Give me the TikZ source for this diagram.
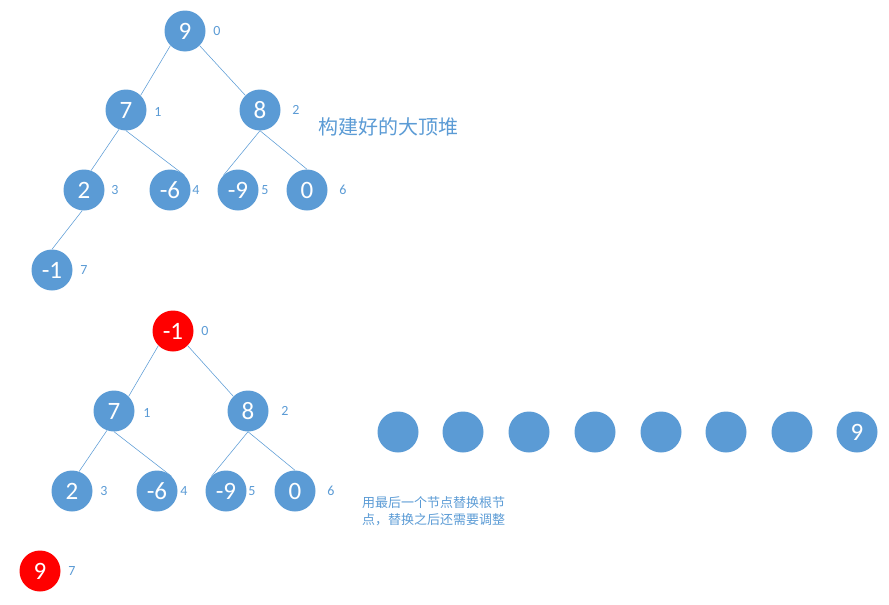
\documentclass[tikz,border=0pt]{standalone}
\usepackage{fontspec}
\setmainfont{Carlito}
\newfontfamily\cjk{Noto Sans CJK SC}
\definecolor{heapblue}{HTML}{5B9BD5}
\definecolor{heapred}{HTML}{FF0000}
\tikzset{
  heapnode/.style={circle, fill=heapblue, text=white, minimum size=41pt, inner sep=0pt, font=\fontsize{25}{27}\selectfont},
  rednode/.style={heapnode, fill=heapred},
  idx/.style={text=heapblue, font=\fontsize{14}{16}\selectfont, inner sep=0pt},
  edge/.style={draw=heapblue, line width=0.55pt},
  note/.style={text=heapblue, align=left, inner sep=0pt}
}
\begin{document}
\begin{tikzpicture}[x=1pt, y=-1pt]
    \useasboundingbox (0,0) rectangle (889,605);
    % the max heap after building it
    \node[heapnode] (t0) at (185,31)  {9};
    \node[heapnode] (t1) at (126,110) {7};
    \node[heapnode] (t2) at (260,110) {8};
    \node[heapnode] (t3) at (84,190)  {2};
    \node[heapnode] (t4) at (170,190) {-6};
    \node[heapnode] (t5) at (238,190) {-9};
    \node[heapnode] (t6) at (307,190) {0};
    \node[heapnode] (t7) at (52,270)  {-1};
    \foreach \i/\x/\y in {0/217/31, 1/158/112, 2/296/110, 3/115/190, 4/196/190, 5/265/190, 6/343/190, 7/84/270}
      \node[idx] (ti\i) at (\x,\y) {\i};
    \draw[edge] (t0.south west) -- (t1.north east);
    \draw[edge] (t0.south east) -- (t2.north west);
    \draw[edge] (t1.-110) -- (t3.70);
    \draw[edge] (t1.south) -- (t4.north east);
    \draw[edge] (t2.south) -- (t5.north west);
    \draw[edge] (t2.south) -- (t6.north);
    \draw[edge] (t3.-95) -- (t7.north);
    \node[note, anchor=west, font=\cjk\fontsize{20}{22}\selectfont] (title) at (318,127) {构建好的大顶堆};
    % the last node replaces the root
    \node[rednode]  (b0) at (173,331) {-1};
    \node[heapnode] (b1) at (114,411) {7};
    \node[heapnode] (b2) at (248,411) {8};
    \node[heapnode] (b3) at (72,491)  {2};
    \node[heapnode] (b4) at (157,491) {-6};
    \node[heapnode] (b5) at (226,491) {-9};
    \node[heapnode] (b6) at (295,491) {0};
    \node[rednode]  (b7) at (40,571)  {9};
    \foreach \i/\x/\y in {0/205/331, 1/147/413, 2/285/411, 3/104/491, 4/184/491, 5/252/491, 6/331/491, 7/72/571}
      \node[idx] (bi\i) at (\x,\y) {\i};
    \draw[edge] (b0.south west) -- (b1.north east);
    \draw[edge] (b0.south east) -- (b2.north west);
    \draw[edge] (b1.-110) -- (b3.70);
    \draw[edge] (b1.south) -- (b4.north east);
    \draw[edge] (b2.south) -- (b5.north west);
    \draw[edge] (b2.south) -- (b6.north);
    % the array, 9 already in the last slot
    \foreach \x [count=\k] in {398,463,529,595,661,726,792}
      \node[heapnode] (a\k) at (\x,432) {};
    \node[heapnode] (a8) at (857,432) {9};
    \node[note, anchor=north west, font=\cjk\fontsize{13}{17}\selectfont] (swap) at (362,496) {用最后一个节点替换根节\\点，替换之后还需要调整};
  \end{tikzpicture}
\end{document}
